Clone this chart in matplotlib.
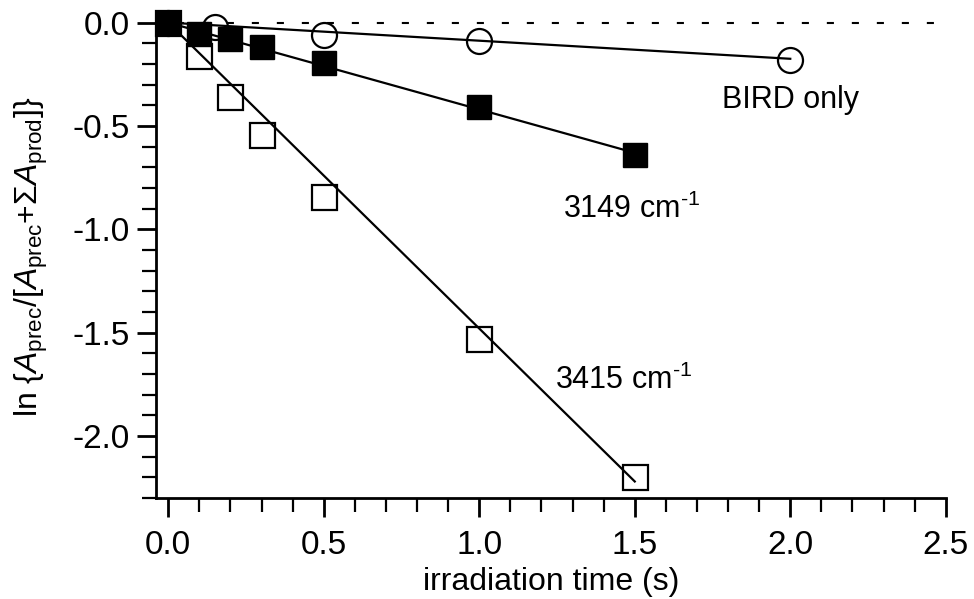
import matplotlib
matplotlib.use("Agg")
import matplotlib.pyplot as plt
import numpy as np
from matplotlib.ticker import MultipleLocator, FormatStrFormatter

plt.rcParams['font.family'] = ['Liberation Sans', 'DejaVu Sans']
plt.rcParams['mathtext.fontset'] = 'custom'
plt.rcParams['mathtext.rm'] = 'Liberation Sans'
plt.rcParams['mathtext.it'] = 'Liberation Sans:italic'
plt.rcParams['mathtext.sf'] = 'Liberation Sans'

# Data
bird_t = [0.0, 0.15, 0.5, 1.0, 2.0]
bird_y = [0.0, -0.02, -0.058, -0.087, -0.18]

t3149 = [0.0, 0.1, 0.2, 0.3, 0.5, 1.0, 1.5]
y3149 = [0.0, -0.053, -0.077, -0.116, -0.193, -0.41, -0.64]

t3415 = [0.0, 0.1, 0.2, 0.3, 0.5, 1.0, 1.5]
y3415 = [0.0, -0.16, -0.36, -0.545, -0.845, -1.53, -2.2]

# Fit line endpoints (start, end)
bird_fit_t = [0.0, 2.0]
bird_fit_y = [0.0, -0.175]
fit3149_t = [0.0, 1.5]
fit3149_y = [0.0, -0.63]
fit3415_t = [0.0, 1.5]
fit3415_y = [0.0, -2.22]

labels = ["BIRD only", r"3149 cm$^{\text{-}1}$", r"3415 cm$^{\text{-}1}$"]

fig = plt.figure(figsize=(9.74, 5.99), dpi=100)
ax = fig.add_axes([0.160, 0.1686, 0.811, 0.804])

ax.axhline(0, xmin=0.0, xmax=1.0, color='black', lw=1.5,
           linestyle=(2, (3.4, 8.6)), zorder=1)

lw = 1.6
ax.plot(bird_fit_t, bird_fit_y, color='black', lw=lw, zorder=2)
ax.plot(fit3149_t, fit3149_y, color='black', lw=lw, zorder=2)
ax.plot(fit3415_t, fit3415_y, color='black', lw=lw, zorder=2)

ax.plot(bird_t, bird_y, linestyle='none', marker='o', ms=18, mfc='none',
        mec='black', mew=1.6, zorder=3, clip_on=False)
ax.plot(t3415, y3415, linestyle='none', marker='s', ms=18, mfc='none',
        mec='black', mew=1.6, zorder=3, clip_on=False)
ax.plot(t3149, y3149, linestyle='none', marker='s', ms=17, mfc='black',
        mec='black', mew=1.0, zorder=4, clip_on=False)

ax.text(2.0, -0.375, labels[0], fontsize=22, ha='center', va='center')
ax.text(1.27, -0.905, labels[1], fontsize=22, ha='left', va='center')
ax.text(1.245, -1.73, labels[2], fontsize=22, ha='left', va='center')

ax.set_xlim(-0.04, 2.5)
ax.set_ylim(-2.3, 0.03)

for s in ['top', 'right']:
    ax.spines[s].set_visible(False)
for s in ['left', 'bottom']:
    ax.spines[s].set_linewidth(2.0)

ax.xaxis.set_major_locator(MultipleLocator(0.5))
ax.xaxis.set_minor_locator(MultipleLocator(0.1))
ax.yaxis.set_major_locator(MultipleLocator(0.5))
ax.yaxis.set_minor_locator(MultipleLocator(0.1))
ax.xaxis.set_major_formatter(FormatStrFormatter('%.1f'))
ax.yaxis.set_major_formatter(FormatStrFormatter('%.1f'))

ax.tick_params(which='major', length=14, width=2.0, labelsize=24, direction='out')
ax.tick_params(which='minor', length=10, width=1.6, direction='out')
ax.tick_params(axis='x', which='major', pad=9)
ax.tick_params(axis='y', which='major', pad=5)

ax.set_xlabel('irradiation time (s)', fontsize=23, labelpad=4)
ax.set_ylabel(r'ln {$\mathit{A}_{\mathrm{prec}}$/[$\mathit{A}_{\mathrm{prec}}$+$\Sigma\mathit{A}_{\mathrm{prod}}$]}',
              fontsize=23, labelpad=16)

fig.savefig('out.png', dpi=100)
